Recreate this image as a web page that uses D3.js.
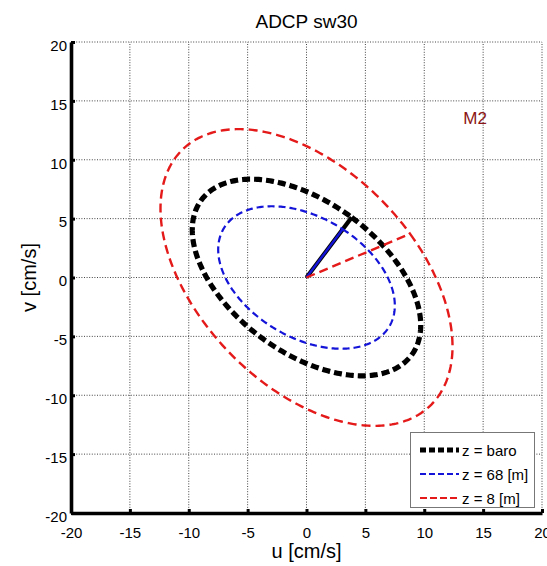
<!DOCTYPE html>
<html>
<head>
<meta charset="utf-8">
<script src="https://cdn.jsdelivr.net/npm/d3@7"></script>
<style>
  html, body { margin: 0; padding: 0; background: #fff; }
  svg { display: block; font-family: "Liberation Sans", Arial, Helvetica, sans-serif; }
</style>
</head>
<body>
<svg id="chart" width="547" height="566"></svg>
<script>
// ---- data ----
const title = "ADCP sw30";
const constituent = "M2";
const xLabel = "u [cm/s]";
const yLabel = "v [cm/s]";
const tickValues = [-20, -15, -10, -5, 0, 5, 10, 15, 20];
const seriesNames = ["z = baro", "z = 68 [m]", "z = 8 [m]"];
// tidal ellipse parameters per series: u/v amplitudes [cm/s] and phases [deg]
const uAmp   = [9.7, 7.5, 12.4];
const uPhase = [66.7, 65.8, 44.8];
const vAmp   = [8.35, 6.05, 12.6];
const vPhase = [-52.3, -47.3, -72.9];
const colors = ["#000000", "#1414d8", "#e41a1a"];

// ---- layout ----
const svg = d3.select("#chart");
const x = d3.scaleLinear().domain([-20, 20]).range([71, 542]);
const y = d3.scaleLinear().domain([-20, 20]).range([513, 42]);

const styles = [
  { w: 5.2, dash: "8,4" },
  { w: 2.2, dash: "7,4" },
  { w: 2.4, dash: "9,5" }
];

// grid (dotted)
const grid = svg.append("g");
tickValues.forEach(v => {
  grid.append("line").attr("x1", x(v)).attr("x2", x(v)).attr("y1", y(-20)).attr("y2", y(20))
    .attr("stroke", "#444").attr("stroke-width", 1).attr("stroke-dasharray", "1,1.6");
  grid.append("line").attr("y1", y(v)).attr("y2", y(v)).attr("x1", x(-20)).attr("x2", x(20))
    .attr("stroke", "#444").attr("stroke-width", 1).attr("stroke-dasharray", "1,1.6");
});

// ellipses and phase lines
const line = d3.line().x(d => x(d[0])).y(d => y(d[1]));
const deg = Math.PI / 180;
seriesNames.forEach((name, i) => {
  const pts = d3.range(0, 361, 1).map(t => [
    uAmp[i] * Math.cos((t - uPhase[i]) * deg),
    vAmp[i] * Math.cos((t - vPhase[i]) * deg)
  ]);
  svg.append("path").attr("d", line(pts)).attr("fill", "none")
    .attr("stroke", colors[i]).attr("stroke-width", styles[i].w)
    .attr("stroke-dasharray", styles[i].dash);
  const end = pts[0];
  svg.append("path").attr("d", line([[0, 0], end])).attr("fill", "none")
    .attr("stroke", colors[i]).attr("stroke-width", i === 0 ? 4.2 : 2.4)
    .attr("stroke-dasharray", i === 2 ? styles[i].dash : null);
});

// axes
const xAxis = d3.axisBottom(x).tickValues(tickValues).tickSizeInner(-4).tickSizeOuter(0).tickPadding(14)
  .tickFormat(d3.format("d"));
const yAxis = d3.axisLeft(y).tickValues(tickValues).tickSizeInner(-4).tickSizeOuter(0).tickPadding(4)
  .tickFormat(d3.format("d"));

const gx = svg.append("g").attr("transform", `translate(0,${y(-20)})`).call(xAxis);
const gy = svg.append("g").attr("transform", `translate(${x(-20)},0)`).call(yAxis);
[gx, gy].forEach(g => {
  g.select(".domain").attr("stroke", "#000").attr("stroke-width", 3.6);
  g.selectAll(".tick line").attr("stroke", "#000").attr("stroke-width", 3);
  g.selectAll(".tick text").attr("fill", "#000").attr("font-size", 15)
    .attr("font-family", "Liberation Sans, Arial, sans-serif");
});
gx.selectAll(".tick text").text(d => d3.format("d")(d).replace("−", "-"));
gy.selectAll(".tick text").text(d => d3.format("d")(d).replace("−", "-")).attr("dy", "0.55em");

// title and axis labels
svg.append("text").attr("x", x(0)).attr("y", 28).attr("text-anchor", "middle")
  .attr("font-size", 19).text(title);
svg.append("text").attr("x", x(0)).attr("y", 558).attr("text-anchor", "middle")
  .attr("font-size", 20).text(xLabel);
svg.append("text").attr("transform", `translate(36,${y(0)}) rotate(-90)`).attr("text-anchor", "middle")
  .attr("font-size", 20).text(yLabel);

// constituent label
svg.append("text").attr("x", x(15) - 8).attr("y", 124).attr("text-anchor", "middle")
  .attr("font-size", 17).attr("fill", "#8b1414").text(constituent);

// legend
const lg = svg.append("g");
lg.append("rect").attr("x", 410.5).attr("y", 432.5).attr("width", 124).attr("height", 75)
  .attr("fill", "#fff").attr("stroke", "#777").attr("stroke-width", 1);
const legDash = ["6,3", "6,3", "7,3"];
seriesNames.forEach((name, i) => {
  const yy = 450 + i * 24;
  lg.append("line").attr("x1", 420).attr("x2", 459).attr("y1", yy).attr("y2", yy)
    .attr("stroke", colors[i]).attr("stroke-width", i === 0 ? 5 : 2.2)
    .attr("stroke-dasharray", legDash[i]);
  lg.append("text").attr("x", 462).attr("y", yy + 5.5).attr("font-size", 15).text(name);
});
</script>
</body>
</html>
